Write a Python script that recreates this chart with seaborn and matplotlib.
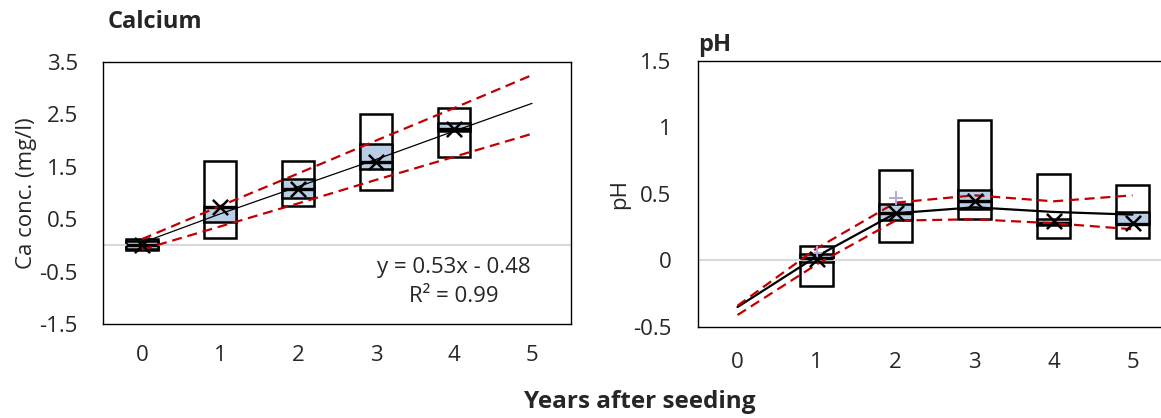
import matplotlib
matplotlib.use("Agg")
import seaborn as sns
import matplotlib.pyplot as plt

# data
years = [0, 1, 2, 3, 4, 5]

# Calcium: boxes for years 0-4
ca_years = [0, 1, 2, 3, 4]
ca_low = [-0.09, 0.135, 0.755, 1.06, 1.69]
ca_high = [0.115, 1.62, 1.61, 2.50, 2.63]
ca_q1 = [-0.06, 0.45, 0.90, 1.46, 2.18]
ca_q3 = [0.08, 0.74, 1.27, 1.935, 2.33]
ca_med = [0.01, 0.73, 1.08, 1.60, 2.215]
ca_mean = [0.0, 0.73, 1.08, 1.60, 2.23]
ca_fit = [0.05, 0.60, 1.12, 1.64, 2.18, 2.71]
ca_upper = [0.12, 0.75, 1.37, 2.00, 2.62, 3.25]
ca_lower = [-0.08, 0.36, 0.80, 1.25, 1.69, 2.13]

# pH: boxes for years 1-5
ph_years = [1, 2, 3, 4, 5]
ph_low = [-0.19, 0.14, 0.31, 0.17, 0.17]
ph_high = [0.11, 0.68, 1.06, 0.65, 0.57]
ph_q1 = [-0.01, 0.305, 0.39, 0.267, 0.272]
ph_q3 = [0.05, 0.425, 0.53, 0.31, 0.367]
ph_med = [0.017, 0.36, 0.45, 0.28, 0.275]
ph_mean = [0.01, 0.36, 0.45, 0.30, 0.28]
ph_plus_years = [1, 2]
ph_plus = [0.06, 0.47]
ph_fit = [-0.35, 0.03, 0.355, 0.40, 0.365, 0.345]
ph_upper = [-0.34, 0.09, 0.435, 0.49, 0.445, 0.49]
ph_lower = [-0.41, -0.03, 0.30, 0.31, 0.28, 0.235]

sns.set_style("white")
plt.rcParams['font.family'] = ['Open Sans', 'DejaVu Sans']

BLUE = "#b9cde5"
RED = "#c00000"
GRID = "#d9d9d9"
FS = 16


def draw_boxes(ax, xs, low, high, q1, q3, med, width=0.4):
    lows = [h - l for l, h in zip(low, high)]
    ax.bar(xs, lows, bottom=low, width=width, facecolor="none",
           edgecolor="black", linewidth=1.8, zorder=2)
    iqr = [b - a for a, b in zip(q1, q3)]
    ax.bar(xs, iqr, bottom=q1, width=width, facecolor=BLUE,
           edgecolor="black", linewidth=1.8, zorder=2)
    ax.hlines(med, [x - width / 2 for x in xs], [x + width / 2 for x in xs],
              color="black", linewidth=2.4, zorder=3)


def style_axes(ax, ylim, yticks, ylabels, ypad, xpad):
    ax.set_xlim(-0.5, 5.5)
    ax.set_ylim(*ylim)
    ax.set_yticks(yticks)
    ax.set_yticklabels(ylabels)
    ax.set_xticks(years)
    ax.set_xticklabels([str(y) for y in years])
    ax.tick_params(axis="y", length=0, pad=ypad, labelsize=FS)
    ax.tick_params(axis="x", length=0, pad=xpad, labelsize=FS)
    for sp in ax.spines.values():
        sp.set_visible(True)
        sp.set_color("black")
        sp.set_linewidth(1.0)
    ax.axhline(0, color=GRID, linewidth=1.5, zorder=2.5)


fig = plt.figure(figsize=(11.61, 4.18), dpi=100)
ax1 = fig.add_axes([0.0887, 0.2249, 0.4031, 0.6268])
ax2 = fig.add_axes([0.6012, 0.2177, 0.4083, 0.6364])

dash = (0, (4.5, 2.6))

# Calcium panel
draw_boxes(ax1, ca_years, ca_low, ca_high, ca_q1, ca_q3, ca_med)
sns.lineplot(x=years, y=ca_fit, ax=ax1, color="black", linewidth=0.9, zorder=4)
sns.lineplot(x=years, y=ca_upper, ax=ax1, color=RED, linewidth=1.6, linestyle=dash, zorder=4)
sns.lineplot(x=years, y=ca_lower, ax=ax1, color=RED, linewidth=1.6, linestyle=dash, zorder=4)
sns.scatterplot(x=ca_years, y=ca_mean, ax=ax1, marker="x", s=120, color="black",
                linewidth=1.8, zorder=5)
style_axes(ax1, (-1.5, 3.5), [-1.5, -0.5, 0.5, 1.5, 2.5, 3.5],
           ["-1.5", "-0.5", "0.5", "1.5", "2.5", "3.5"], 18, 15)
ax1.set_ylabel("Ca conc. (mg/l)", fontsize=FS, labelpad=2)
ax1.text(4.0, -0.43, "y = 0.53x - 0.48", ha="center", va="center", fontsize=FS)
ax1.text(4.0, -0.97, "R² = 0.99", ha="center", va="center", fontsize=FS)

# pH panel
draw_boxes(ax2, ph_years, ph_low, ph_high, ph_q1, ph_q3, ph_med, width=0.41)
sns.lineplot(x=years, y=ph_fit, ax=ax2, color="black", linewidth=1.6, zorder=4)
sns.lineplot(x=years, y=ph_upper, ax=ax2, color=RED, linewidth=1.6, linestyle=dash, zorder=4)
sns.lineplot(x=years, y=ph_lower, ax=ax2, color=RED, linewidth=1.6, linestyle=dash, zorder=4)
sns.scatterplot(x=ph_plus_years, y=ph_plus, ax=ax2, marker="+", s=110, color="#b4a7d6",
                linewidth=1.4, zorder=4.5)
sns.scatterplot(x=ph_years, y=ph_mean, ax=ax2, marker="x", s=120, color="black",
                linewidth=1.8, zorder=5)
style_axes(ax2, (-0.5, 1.5), [-0.5, 0, 0.5, 1, 1.5],
           ["-0.5", "0", "0.5", "1", "1.5"], 19, 18)
ax2.set_ylabel("pH", fontsize=FS, labelpad=2)

fig.text(108 / 1161, 1 - 22 / 418, "Calcium", fontsize=17, fontweight="bold",
         ha="left", va="center")
fig.text(698 / 1161, 1 - 45 / 418, "pH", fontsize=17, fontweight="bold",
         ha="left", va="center")
fig.text(640 / 1161, 1 - 402 / 418, "Years after seeding", fontsize=17.5,
         fontweight="bold", ha="center", va="center")

fig.savefig("out.png", dpi=100)
